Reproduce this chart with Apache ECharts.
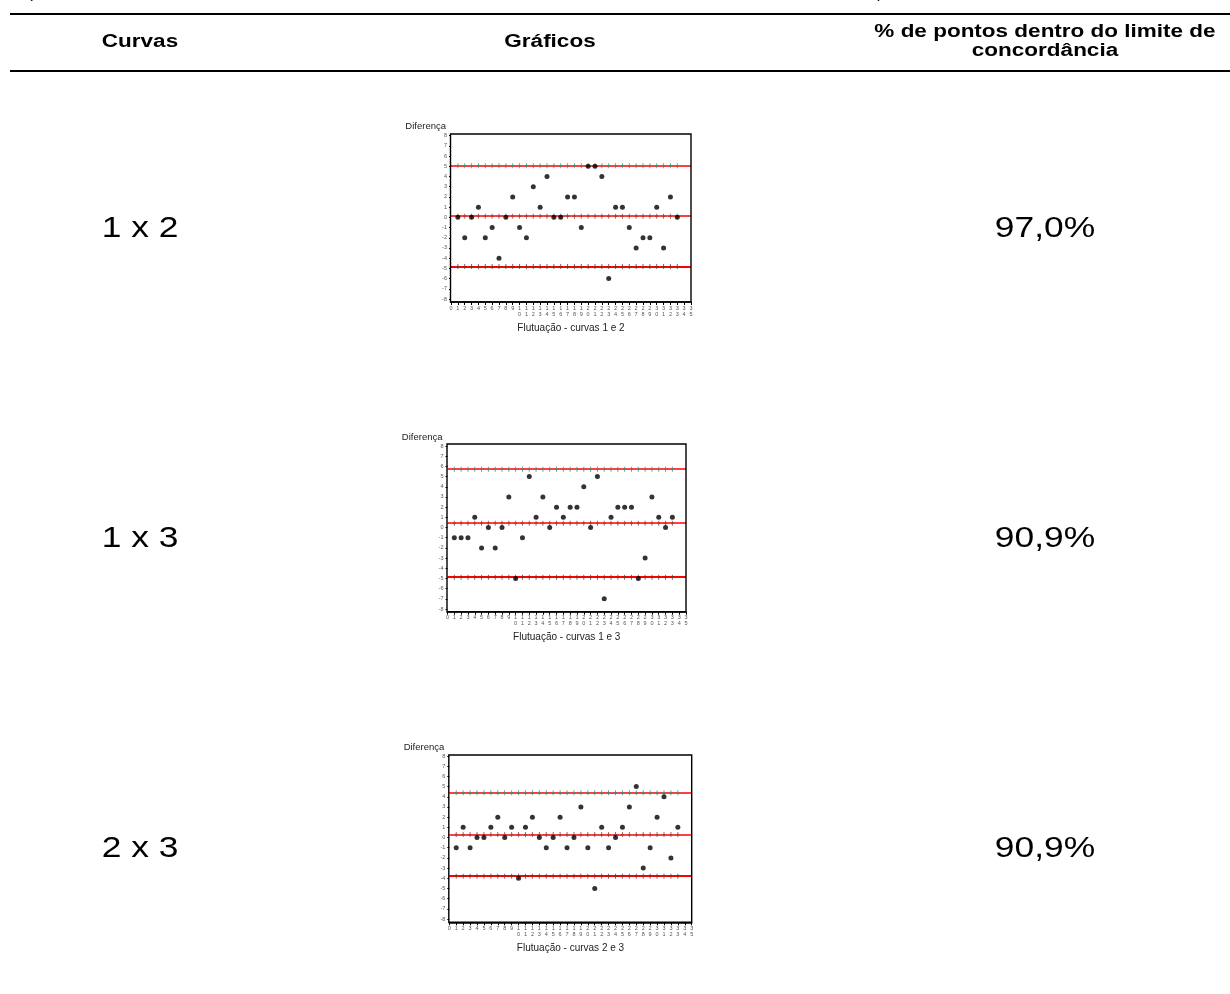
<!DOCTYPE html>
<html>
<head>
<meta charset="utf-8">
<script src="https://cdn.jsdelivr.net/npm/echarts@6/dist/echarts.min.js"></script>
<style>
  html, body { margin: 0; padding: 0; background: #ffffff; }
  #chart { width: 1230px; height: 994px; }
</style>
</head>
<body>
<div id="chart"></div>
<script>
// Observation number of each measured point
const obsIndex = [1, 2, 3, 4, 5, 6, 7, 8, 9, 10, 11, 12, 13, 14, 15, 16, 17,
                  18, 19, 20, 21, 22, 23, 24, 25, 26, 27, 28, 29, 30, 31, 32, 33];

// Differences between curves, one value per observation
const diff12 = [0, -2, 0, 1, -2, -1, -4, 0, 2, -1, -2, 3, 1, 4, 0, 0, 2,
                2, -1, 5, 5, 4, -6, 1, 1, -1, -3, -2, -2, 1, -3, 2, 0];
const diff13 = [-1, -1, -1, 1, -2, 0, -2, 0, 3, -5, -1, 5, 1, 3, 0, 2, 1,
                2, 2, 4, 0, 5, -7, 1, 2, 2, 2, -5, -3, 3, 1, 0, 1];
const diff23 = [-1, 1, -1, 0, 0, 1, 2, 0, 1, -4, 1, 2, 0, -1, 0, 2, -1,
                0, 3, -1, -5, 1, -1, 0, 1, 3, 5, -3, -1, 2, 4, -2, 1];

// Limits of agreement: [upper, mean, lower]
const limits12 = [5.06, 0.12, -4.82];
const limits13 = [5.72, 0.42, -4.88];
const limits23 = [4.40, 0.30, -3.80];

// Table text
const headers = ['Curvas', 'Gráficos', '% de pontos dentro do limite de\nconcordância'];
const pairLabels = ['1 x 2', '1 x 3', '2 x 3'];
const agreement = ['97,0%', '90,9%', '90,9%'];
const xTitles = ['Flutuação - curvas 1 e 2', 'Flutuação - curvas 1 e 3', 'Flutuação - curvas 2 e 3'];
const yTitle = 'Diferença';

// Axis ranges
const xRange = [0, 35];
const yRange = [-8, 8];

// Panel geometry (pixels): plot area, frame top and axis line position
const panels = [
  { x0: 451, x1: 691, y8: 135.7, yM8: 299, frameTop: 134, axisY: 302, rowY: 229 },
  { x0: 447.5, x1: 686, y8: 446, yM8: 609, frameTop: 444, axisY: 611.7, rowY: 539 },
  { x0: 449.3, x1: 691.7, y8: 756, yM8: 919, frameTop: 755, axisY: 922.3, rowY: 849 }
];

// Table column centres and text stretch of the document
const colX = [140, 550, 1045];
const textStretch = 1.25;

const diffs = [diff12, diff13, diff23];
const limits = [limits12, limits13, limits23];
const limitMarkColors = ['#2f8f7f', '#8a3c36', '#6a3328'];
// small "+" used to mark each observation on the limit lines
const plusSymbol = 'path://M1,0H2V5H1Z M0,2H3V3H0Z';

const chart = echarts.init(document.getElementById('chart'), null, { renderer: 'canvas' });

const grids = [], xAxes = [], yAxes = [], series = [], graphics = [];

panels.forEach((p, i) => {
  grids.push({
    left: p.x0, top: p.y8,
    width: p.x1 - p.x0, height: p.yM8 - p.y8,
    containLabel: false
  });
  xAxes.push({
    gridIndex: i, type: 'value',
    min: xRange[0], max: xRange[1], interval: 1,
    offset: p.axisY - p.yM8,
    axisLine: { show: true, onZero: false, lineStyle: { color: '#000', width: 1.5 } },
    axisTick: { show: true, length: 3, lineStyle: { color: '#000', width: 1 } },
    axisLabel: {
      show: true, fontSize: 5.5, lineHeight: 6, color: '#555', margin: 3,
      fontFamily: 'Liberation Sans, Arial, sans-serif',
      formatter: v => String(v).split('').join('\n')
    },
    splitLine: { show: false },
    name: xTitles[i], nameLocation: 'middle', nameGap: p.axisY - p.yM8 + 23,
    nameTextStyle: {
      fontSize: 10, color: '#222', verticalAlign: 'middle',
      fontFamily: 'Liberation Sans, Arial, sans-serif'
    }
  });
  yAxes.push({
    gridIndex: i, type: 'value',
    min: yRange[0], max: yRange[1], interval: 1,
    axisLine: { show: false },
    axisTick: { show: true, length: 2, lineStyle: { color: '#000', width: 1 } },
    axisLabel: {
      show: true, fontSize: 5.5, color: '#555', margin: 4,
      fontFamily: 'Liberation Sans, Arial, sans-serif'
    },
    splitLine: { show: false },
    name: yTitle, nameLocation: 'end', nameGap: 9,
    nameTextStyle: {
      fontSize: 9.5, color: '#222', align: 'right', verticalAlign: 'middle',
      padding: [0, 5, 0, 0],
      fontFamily: 'Liberation Sans, Arial, sans-serif'
    }
  });

  // Limit lines across the whole plot width, marked at each observation
  limits[i].forEach((v, k) => {
    series.push({
      type: 'scatter', xAxisIndex: i, yAxisIndex: i,
      data: obsIndex.map(x => [x, v]),
      symbol: plusSymbol, symbolSize: [3, 5],
      itemStyle: { color: limitMarkColors[k] },
      silent: true, z: 4,
      markLine: {
        silent: true, symbol: 'none', animation: false, z: 3,
        label: { show: false },
        lineStyle: { color: '#ff0000', width: k === 2 ? 2 : 1.5, type: 'solid', opacity: 1 },
        data: [{ yAxis: v }]
      }
    });
  });

  // Measured differences
  series.push({
    type: 'scatter', xAxisIndex: i, yAxisIndex: i,
    data: obsIndex.map((x, j) => [x, diffs[i][j]]),
    symbol: 'circle', symbolSize: 5,
    itemStyle: { color: '#000' },
    silent: true, z: 5
  });

  // Plot frame
  graphics.push({
    type: 'rect', silent: true, z: 10,
    shape: { x: p.x0 - 0.5, y: p.frameTop, width: p.x1 - p.x0 + 0.5, height: p.axisY - p.frameTop },
    style: { fill: 'none', stroke: '#000', lineWidth: 1.4 }
  });

  // Row labels
  [[pairLabels[i], colX[0]], [agreement[i], colX[2]]].forEach(([txt, x]) => {
    graphics.push({
      type: 'text', silent: true, x: x, y: p.rowY, scaleX: 1.22,
      style: {
        text: txt, fontSize: 29, fill: '#000',
        fontFamily: 'Liberation Sans, Arial, sans-serif', align: 'center', verticalAlign: 'middle'
      }
    });
  });
});

// Table rules
[14, 71].forEach(y => {
  graphics.push({
    type: 'line', silent: true,
    shape: { x1: 10, y1: y, x2: 1230, y2: y },
    style: { stroke: '#000', lineWidth: 2.2 }
  });
});

// Header cells
const headerFont = { fontSize: 18, fontWeight: 'bold', fill: '#000', lineHeight: 19,
  fontFamily: 'Liberation Sans, Arial, sans-serif', align: 'center', verticalAlign: 'middle' };
headers.forEach((h, c) => {
  graphics.push({ type: 'text', silent: true, x: colX[c], y: 42, scaleX: textStretch,
    style: Object.assign({ text: h }, headerFont) });
});

// Tail of the caption line above the table
[['(', 30], [',', 302], [',', 590], [')', 880]].forEach(([ch, x]) => {
  graphics.push({
    type: 'text', silent: true, x: x, y: -7,
    style: { text: ch, fontSize: 17, fill: '#000',
      fontFamily: 'Liberation Sans, Arial, sans-serif', align: 'center', verticalAlign: 'middle' }
  });
});

chart.setOption({
  backgroundColor: '#ffffff',
  animation: false,
  grid: grids,
  xAxis: xAxes,
  yAxis: yAxes,
  series: series,
  graphic: graphics
});
</script>
</body>
</html>
